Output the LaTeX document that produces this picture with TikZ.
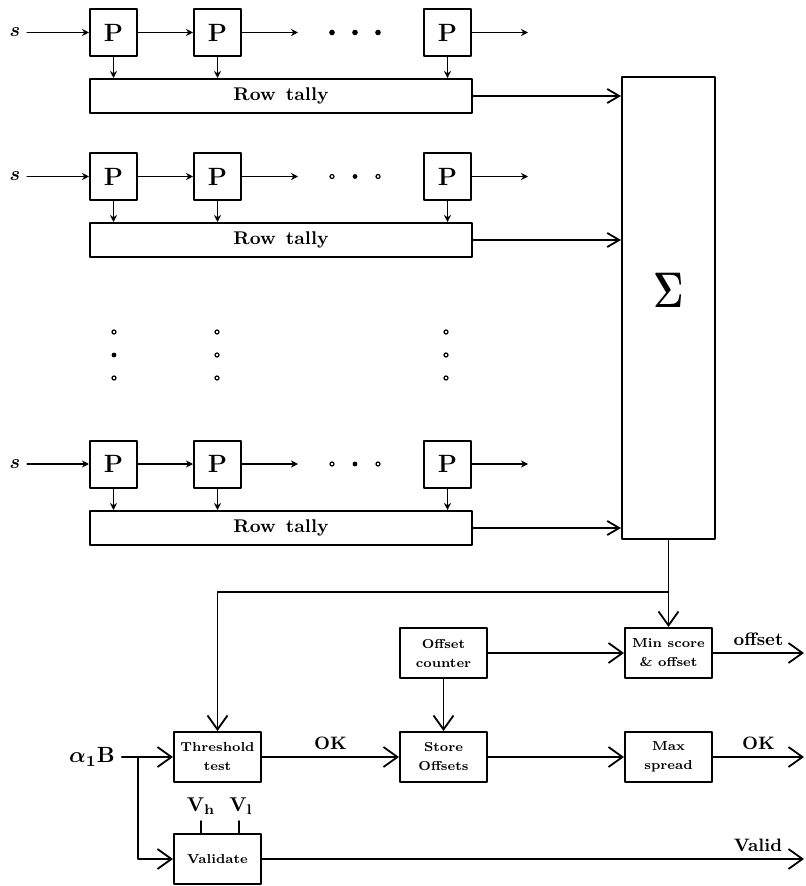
\RequirePackage{fix-cm}
\documentclass[tikz,border=0pt]{standalone}
\usepackage{amsmath}
\usepackage{tikz}
\usetikzlibrary{arrows.meta,positioning}

\tikzset{
  pbox/.style={draw, line width=1pt, minimum width=23.5pt, minimum height=23.5pt, inner sep=0pt, font=\bfseries\fontsize{12.5}{14}\selectfont},
  tallybox/.style={draw, line width=1pt, minimum width=191pt, minimum height=17pt, inner sep=0pt, font=\bfseries\fontsize{9.2}{11}\selectfont},
  unitbox/.style={draw, line width=1pt, minimum width=43.5pt, minimum height=25pt, inner sep=0pt, align=center, font=\bfseries\fontsize{6.5}{9.5}\selectfont},
  sumbox/.style={draw, line width=1pt, minimum width=46.5pt, minimum height=231pt},
  smallarrow/.style={-{Stealth[length=3.5pt,width=3.5pt]}, line width=0.9pt},
  sigarrow/.style={-{Straight Barb[length=6pt,width=7pt]}, line width=0.9pt},
  bigarrow/.style={-{Straight Barb[length=7pt,width=10pt]}, line width=0.9pt},
  lab/.style={font=\bfseries\fontsize{9}{11}\selectfont},
  slab/.style={font=\fontsize{10}{12}\selectfont},
}

\begin{document}
\begin{tikzpicture}[x=0.5pt, y=-0.5pt, line cap=round, line join=round]

\useasboundingbox (0,0) rectangle (805,886);

\node[sumbox] (sigma) at (668.5,308) {};
\node (sigmalab) at (669,290) {\fontsize{25}{28}\selectfont\scalebox{0.75}[1]{$\mathbf{\Sigma}$}};

\node[slab] (sa) at (15,32.5) {$\boldsymbol{s}$};
\node[pbox] (pa1) at (113.5,32.5) {P};
\node[pbox] (pa2) at (217.5,32.5) {P};
\node[pbox] (pa3) at (447.5,32.5) {P};
\node[tallybox] (tallya) at (281,96) {Row\hspace{0.55em}tally};
\coordinate (ea1) at (298,32.5);
\coordinate (ea2) at (528,32.5);

\node[slab] (sb) at (15,176.5) {$\boldsymbol{s}$};
\node[pbox] (pb1) at (113.5,176.5) {P};
\node[pbox] (pb2) at (217.5,176.5) {P};
\node[pbox] (pb3) at (447.5,176.5) {P};
\node[tallybox] (tallyb) at (281,240) {Row\hspace{0.55em}tally};
\coordinate (eb1) at (298,176.5);
\coordinate (eb2) at (528,176.5);

\node[slab] (sc) at (15,464) {$\boldsymbol{s}$};
\node[pbox] (pc1) at (113.5,464) {P};
\node[pbox] (pc2) at (217.5,464) {P};
\node[pbox] (pc3) at (447.5,464) {P};
\node[tallybox] (tallyc) at (281,528) {Row\hspace{0.55em}tally};
\coordinate (ec1) at (298,464);
\coordinate (ec2) at (528,464);

\foreach \r in {a,b,c}{
  \draw[smallarrow] (s\r) -- (p\r1);
  \draw[smallarrow] (p\r1) -- (p\r2);
  \draw[smallarrow] (p\r2) -- (e\r1);
  \draw[smallarrow] (p\r3) -- (e\r2);
  \draw[smallarrow] (p\r1.south) -- (p\r1.south |- tally\r.north);
  \draw[smallarrow] (p\r2.south) -- (p\r2.south |- tally\r.north);
  \draw[smallarrow] (p\r3.south) -- (p\r3.south |- tally\r.north);
  \draw[sigarrow] (tally\r.east) -- (tally\r.east -| sigma.west);
}

\foreach \xpos in {332,355,378}
  \fill (\xpos,32.5) circle (1.4pt);
\foreach \ypos in {176.5,464}{
  \draw[line width=0.6pt] (332,\ypos) circle (1pt);
  \fill (355,\ypos) circle (1.2pt);
  \draw[line width=0.6pt] (378,\ypos) circle (1pt);
}

\draw[line width=0.6pt] (114,332) circle (1pt);
\fill (114,355) circle (1.2pt);
\draw[line width=0.6pt] (114,378) circle (1pt);
\foreach \xpos in {217,446}
  \foreach \ypos in {332,355,378}
    \draw[line width=0.6pt] (\xpos,\ypos) circle (1pt);


\node[unitbox] (thresh) at (217.5,757) {Threshold\\test};
\node[unitbox] (valid) at (217.5,859) {Validate};
\node[unitbox] (offcnt) at (443.5,653) {Offset\\counter};
\node[unitbox] (store) at (443.5,757) {Store\\Offsets};
\node[unitbox] (minsc) at (668.5,653) {Min score\\\& offset};
\node[unitbox] (maxsp) at (668.5,757) {Max\\spread};

\node (alpha) at (92,757) {\fontsize{11}{13}\selectfont$\boldsymbol{\alpha}_{\mathbf{1}}\mathbf{B}$};
\node (vh) at (201,806) {\fontsize{10}{12}\selectfont$\mathbf{V}_{\mathbf{h}}$};
\node (vl) at (241,806) {\fontsize{10}{12}\selectfont$\mathbf{V}_{\mathbf{l}}$};

\coordinate (fb) at (217.5,592);
\coordinate (br) at (138,757);
\coordinate (vht) at (201,821);
\coordinate (vlt) at (239,821);
\coordinate (outoff) at (804,653);
\coordinate (outok) at (804,757);
\coordinate (outval) at (804,859);


\draw[bigarrow] (sigma.south) -- (minsc.north);
\draw[bigarrow] (sigma.south |- fb) -- (fb) -- (thresh.north);

\draw[bigarrow] (alpha.east) -- (thresh.west);
\draw[bigarrow] (br) |- (valid.west);
\draw[line width=0.9pt] (vht) -- (vht |- valid.north);
\draw[line width=0.9pt] (vlt) -- (vlt |- valid.north);

\draw[bigarrow] (thresh.east) -- node[lab, above] {OK} (store.west);
\draw[bigarrow] (offcnt.east) -- (minsc.west);
\draw[bigarrow] (offcnt.south) -- (store.north);
\draw[bigarrow] (store.east) -- (maxsp.west);

\draw[bigarrow] (minsc.east) -- node[lab, above] {offset} (outoff);
\draw[bigarrow] (maxsp.east) -- node[lab, above] {OK} (outok);
\draw[bigarrow] (valid.east) -- node[lab, above, pos=0.915] {Valid} (outval);

\end{tikzpicture}
\end{document}
